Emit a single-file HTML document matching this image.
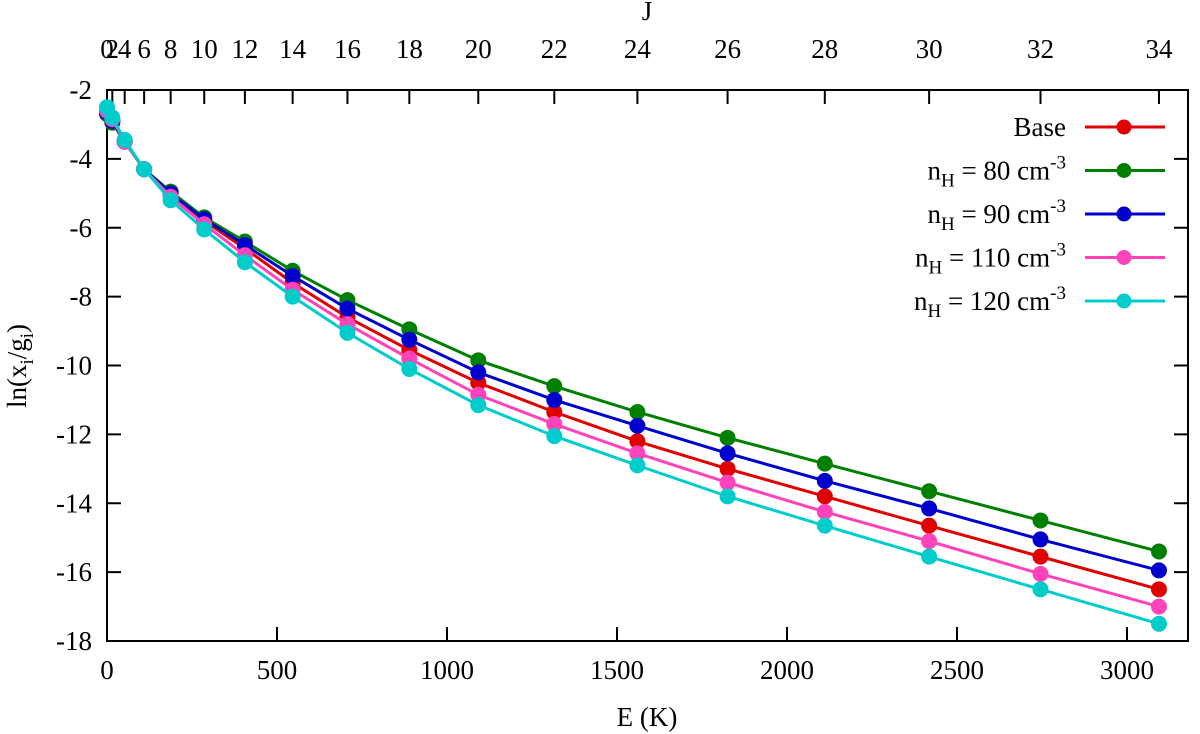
<!DOCTYPE html>
<html><head><meta charset="utf-8"><style>
body{margin:0;background:#fff}
svg{display:block}
svg text{font-family:"Liberation Serif","DejaVu Serif","Times New Roman",serif}
</style></head><body>
<svg id="c" width="1200" height="734" font-family="Liberation Serif, DejaVu Serif, serif"></svg>
<script>
const J = [0,2,4,6,8,10,12,14,16,18,20,22,24,26,28,30,32,34];
const seriesNames = ["Base","n_H = 80","n_H = 90","n_H = 110","n_H = 120"];
const base  = [-2.65,-2.9,-3.5,-4.3,-5.0,-5.8,-6.6,-7.6,-8.6,-9.55,-10.5,-11.35,-12.2,-13.0,-13.8,-14.65,-15.55,-16.5];
const nh80  = [-2.7,-2.95,-3.5,-4.3,-4.95,-5.7,-6.4,-7.25,-8.1,-8.95,-9.85,-10.6,-11.35,-12.1,-12.85,-13.65,-14.5,-15.4];
const nh90  = [-2.65,-2.9,-3.5,-4.3,-5.0,-5.75,-6.5,-7.4,-8.35,-9.25,-10.2,-11.0,-11.75,-12.55,-13.35,-14.15,-15.05,-15.95];
const nh110 = [-2.6,-2.85,-3.5,-4.3,-5.1,-5.9,-6.8,-7.8,-8.8,-9.8,-10.85,-11.7,-12.55,-13.4,-14.25,-15.1,-16.05,-17.0];
const nh120 = [-2.5,-2.8,-3.45,-4.3,-5.2,-6.05,-7.0,-8.0,-9.05,-10.1,-11.15,-12.05,-12.9,-13.8,-14.65,-15.55,-16.5,-17.5];
const xTicks = [0,500,1000,1500,2000,2500,3000];
const yTicks = [-2,-4,-6,-8,-10,-12,-14,-16,-18];
const jTicks = [0,2,4,6,8,10,12,14,16,18,20,22,24,26,28,30,32,34];
const Bconst = 2.6;

const L=107,R=1188,T=90,B=641;
const X=e=>L+e*0.34;
const Y=v=>T+(-2-v)*(B-T)/16;
const E=j=>Bconst*j*(j+1);
const svg=document.getElementById('c');
const NS="http://www.w3.org/2000/svg";
const FF="Liberation Serif, DejaVu Serif, serif";
function mk(t,a,p){const e=document.createElementNS(NS,t);for(const k in a)e.setAttribute(k,a[k]);if(t==='text')e.setAttribute('font-family',FF);(p||svg).appendChild(e);return e;}

const frame=mk('rect',{x:L,y:T,width:R-L,height:B-T,fill:'none',stroke:'#000','stroke-width':2});


xTicks.forEach(v=>{
  const t=mk('line',{x1:X(v),x2:X(v),y1:B,y2:B-14,stroke:'#000','stroke-width':2});
  
  
  const l=mk('text',{x:X(v),y:B+38,'font-size':27,'text-anchor':'middle'});l.textContent=v;
  
  
});
yTicks.forEach(v=>{
  const t=mk('line',{x1:L,x2:L+14,y1:Y(v),y2:Y(v),stroke:'#000','stroke-width':2});
  
  
  const t2=mk('line',{x1:R,x2:R-14,y1:Y(v),y2:Y(v),stroke:'#000','stroke-width':2});
  
  
  const l=mk('text',{x:L-15,y:Y(v)+9,'font-size':27,'text-anchor':'end'});l.textContent=v;
  
  
});
jTicks.forEach(j=>{
  const x=X(E(j));
  const t=mk('line',{x1:x,x2:x,y1:T,y2:T+14,stroke:'#000','stroke-width':2});
  
  
  const l=mk('text',{x:x,y:T-32,'font-size':27,'text-anchor':'middle'});l.textContent=j;
  
  
});
let t=mk('text',{x:647,y:726,'font-size':27,'text-anchor':'middle'});t.textContent='E (K)';


t=mk('text',{x:647,y:20,'font-size':27,'text-anchor':'middle'});t.textContent='J';


t=mk('text',{x:0,y:0,'font-size':27,'text-anchor':'middle',transform:'translate(26,366) rotate(-90)'});
t.innerHTML='ln(x<tspan font-size="19" dy="7">i</tspan><tspan dy="-7">/g</tspan><tspan font-size="19" dy="7">i</tspan><tspan dy="-7">)</tspan>';



const all=[base,nh80,nh90,nh110,nh120];
const colors=['#e00000','#008000','#0000cc','#ff44bb','#00cccc'];
const labels=['Base','80','90','110','120'];
all.forEach((s,i)=>{
  const g=mk('g',{});
  
  
  const pts=J.map((j,k)=>X(E(j))+','+Y(s[k])).join(' ');
  const pl=mk('polyline',{points:pts,fill:'none',stroke:colors[i],'stroke-width':3},g);
  
  
  J.forEach((j,k)=>{
    const c=mk('circle',{cx:X(E(j)),cy:Y(s[k]),r:8,fill:colors[i]},g);
    
    
  });
  const ly=127+i*43.5;
  const lg=mk('g',{});
  
  
  mk('line',{x1:1085,x2:1165,y1:ly,y2:ly,stroke:colors[i],'stroke-width':3},lg);
  mk('circle',{cx:1124,cy:ly,r:7.5,fill:colors[i]},lg);
  const tx=mk('text',{x:1066,y:ly+9,'font-size':27,'text-anchor':'end'},lg);
  if(i===0) tx.textContent='Base';
  else tx.innerHTML='n<tspan font-size="19" dy="7">H</tspan><tspan dy="-7"> = '+labels[i]+' cm</tspan><tspan font-size="19" dy="-11">-3</tspan>';
});
</script>
</body></html>
